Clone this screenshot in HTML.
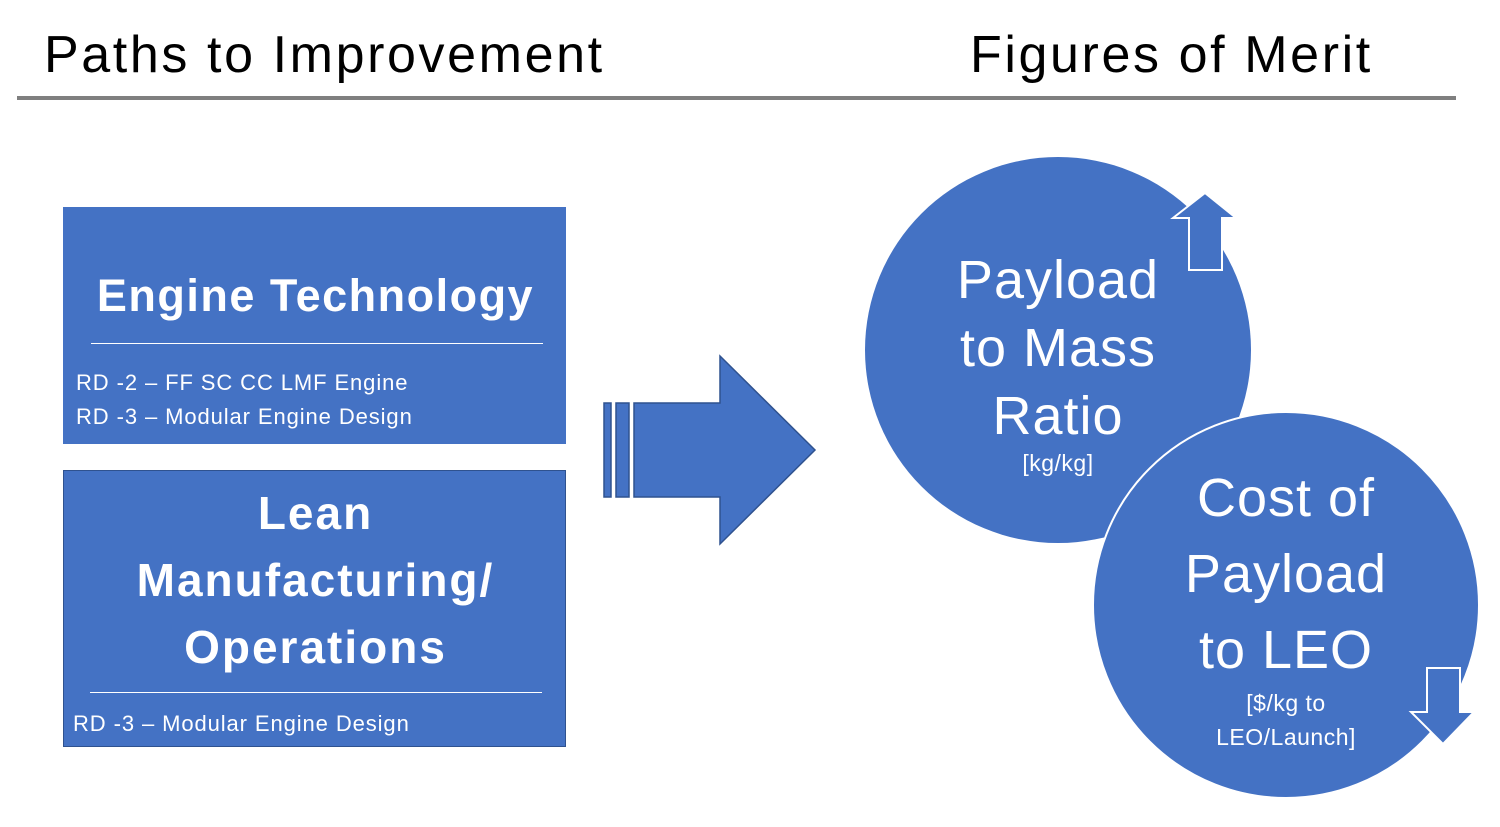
<!DOCTYPE html>
<html><head><meta charset="utf-8"><style>
body{margin:0;width:1500px;height:827px;background:#fff;overflow:hidden;position:relative;font-family:"Liberation Sans",sans-serif}
.t{position:absolute;font-size:52px;color:#000;top:25px;white-space:nowrap}
.box{position:absolute;background:#4472c4;border:1.5px solid #2f528f;box-sizing:border-box;color:#fff}
.c{position:absolute;text-align:center;color:#fff;white-space:nowrap}
.s{font-size:22px;letter-spacing:0.9px}
</style></head><body>
<div class="t" style="left:44px;letter-spacing:2.6px">Paths to Improvement</div>
<div class="t" style="left:970px;letter-spacing:2.6px">Figures of Merit</div>
<div style="position:absolute;left:17px;top:96px;width:1439px;height:4px;background:#7f7f7f"></div>

<div class="box" style="left:63px;top:207px;width:503px;height:237px;border-color:#4472c4">
<div class="c" style="left:0;width:503px;top:62px;font-size:45px;font-weight:bold;letter-spacing:1.5px">Engine Technology</div>
<div style="position:absolute;left:27px;top:135px;width:452px;height:1px;background:#fff"></div>
<div class="s" style="position:absolute;left:12px;top:158px;line-height:34px">RD -2 – FF SC CC LMF Engine<br>RD -3 – Modular Engine Design</div>
</div>

<div class="box" style="left:63px;top:470px;width:503px;height:277px">
<div class="c" style="left:0;width:503px;top:9px;font-size:46px;font-weight:bold;line-height:67px;letter-spacing:2px">Lean<br>Manufacturing/<br>Operations</div>
<div style="position:absolute;left:26px;top:221px;width:452px;height:1px;background:#fff"></div>
<div class="s" style="position:absolute;left:9px;top:240px">RD -3 – Modular Engine Design</div>
</div>

<svg style="position:absolute;left:0;top:0" width="1500" height="827">
<g fill="#4472c4" stroke="#2f528f" stroke-width="1.5">
<rect x="604" y="403" width="7" height="94"/>
<rect x="616" y="403" width="13" height="94"/>
<polygon points="634,403 720,403 720,356 815,450 720,544 720,497 634,497"/>
</g>
<circle cx="1058" cy="350" r="193" fill="#4472c4"/>
<circle cx="1286" cy="605" r="193" fill="#4472c4" stroke="#fff" stroke-width="2"/>
<polygon points="1205,193 1236,218 1222,218 1222,270 1189,270 1189,218 1173,218" fill="#4472c4" stroke="#fff" stroke-width="2"/>
<polygon points="1427,668 1460,668 1460,712 1474,712 1443,744 1411,712 1427,712" fill="#4472c4" stroke="#fff" stroke-width="2"/>
</svg>

<div class="c" style="left:908px;width:300px;top:246px;font-size:54px;line-height:68px;letter-spacing:1px">Payload<br>to Mass<br>Ratio</div>
<div class="c" style="left:908px;width:300px;top:450px;font-size:23px;letter-spacing:0.5px">[kg/kg]</div>
<div class="c" style="left:1136px;width:300px;top:460px;font-size:54px;line-height:76px;letter-spacing:1px">Cost of<br>Payload<br>to LEO</div>
<div class="c" style="left:1136px;width:300px;top:686px;font-size:23px;line-height:34px;letter-spacing:0.5px">[$/kg to<br>LEO/Launch]</div>
</body></html>
